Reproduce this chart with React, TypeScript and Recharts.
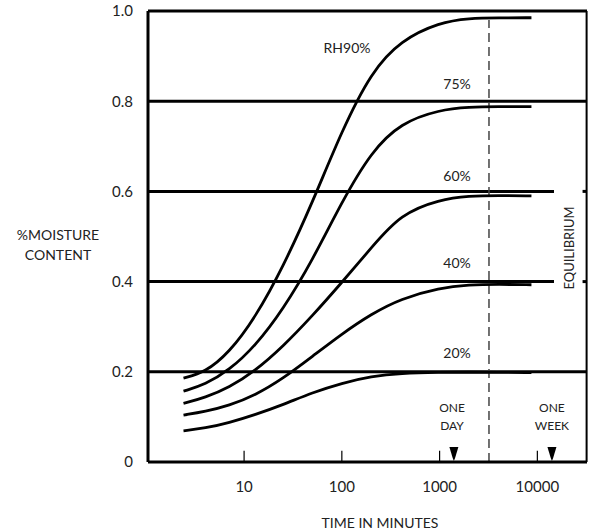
import React from "react";
import {
  LineChart,
  Line,
  XAxis,
  YAxis,
  ReferenceLine,
  ReferenceDot,
  Label,
} from "recharts";

// ---------------------------------------------------------------------------
// Data
// ---------------------------------------------------------------------------

// time in minutes (log axis)
const TIMES = [2.4, 4, 7, 13, 25, 50, 100, 200, 400, 1000, 2000, 4000, 8700];

// % moisture content per relative humidity
const RH90 = [0.186, 0.199, 0.242, 0.32, 0.432, 0.575, 0.735, 0.865, 0.935, 0.975, 0.984, 0.985, 0.985];
const RH75 = [0.157, 0.172, 0.203, 0.257, 0.338, 0.447, 0.577, 0.688, 0.752, 0.781, 0.787, 0.788, 0.788];
const RH60 = [0.13, 0.143, 0.165, 0.202, 0.256, 0.324, 0.398, 0.475, 0.55, 0.582, 0.59, 0.591, 0.59];
const RH40 = [0.104, 0.112, 0.125, 0.148, 0.185, 0.234, 0.284, 0.328, 0.362, 0.386, 0.393, 0.394, 0.393];
const RH20 = [0.069, 0.075, 0.087, 0.105, 0.127, 0.154, 0.175, 0.19, 0.197, 0.199, 0.199, 0.199, 0.198];

const X_TICKS = [10, 100, 1000, 10000];
const Y_TICKS = [0, 0.2, 0.4, 0.6, 0.8, 1.0];
const FULL_LINES = [0.2, 0.8, 1.0];
const SHORT_LINES = [0.4, 0.6];

const X_MIN = 1.04;
const X_MAX = 32200;
const ONE_DAY = 1400;
const ONE_WEEK = 14100;
const EQUILIBRIUM_T = 3200;

const FONT = "Lato, 'Open Sans', sans-serif";
const INK = "#222";

const toSeries = (vals: number[]) => TIMES.map((t, i) => ({ t, v: vals[i] }));

const SERIES = [
  { key: "rh90", values: RH90 },
  { key: "rh75", values: RH75 },
  { key: "rh60", values: RH60 },
  { key: "rh40", values: RH40 },
  { key: "rh20", values: RH20 },
];

// ---------------------------------------------------------------------------
// Small render helpers
// ---------------------------------------------------------------------------

const textShape =
  (text: string, size = 14, rotate = 0) =>
  (p: any) =>
    (
      <text
        x={p.cx}
        y={p.cy}
        textAnchor="middle"
        dominantBaseline="central"
        fontSize={size}
        fontFamily={FONT}
        fill={INK}
        transform={rotate ? `rotate(${rotate} ${p.cx} ${p.cy})` : undefined}
      >
        {text}
      </text>
    );

const arrowShape = (p: any) => {
  const { cx, cy } = p;
  return (
    <path
      d={`M${cx - 4.5},${cy - 15} L${cx + 4.5},${cy - 15} L${cx + 1.2},${cy - 4} L${cx},${cy - 1} L${cx - 1.2},${cy - 4} Z`}
      fill="#000"
    />
  );
};

const yTitle = (props: any) => {
  const vb = props.viewBox || { x: 0, y: 11 };
  const x = vb.x + 58;
  return (
    <text x={x} y={vb.y + 224} textAnchor="middle" fontSize={14} fontFamily={FONT} fill={INK}>
      <tspan x={x} dy="0.35em">%MOISTURE</tspan>
      <tspan x={x} dy={20}>CONTENT</tspan>
    </text>
  );
};

const xTitle = (props: any) => {
  const vb = props.viewBox || { x: 148, y: 462 };
  return (
    <text
      x={380}
      y={vb.y + 60}
      textAnchor="middle"
      dominantBaseline="central"
      fontSize={14}
      fontFamily={FONT}
      fill={INK}
    >
      TIME IN MINUTES
    </text>
  );
};

// ---------------------------------------------------------------------------
// Component
// ---------------------------------------------------------------------------

export default function App() {
  return (
    <div style={{ position: "fixed", top: 0, left: 0, background: "#fff" }}>
      <LineChart
        width={597}
        height={530}
        margin={{ top: 11, right: 10, bottom: 0, left: 0 }}
      >
        <XAxis
          type="number"
          dataKey="t"
          scale="log"
          domain={[X_MIN, X_MAX]}
          allowDataOverflow
          ticks={X_TICKS}
          tickLine={false}
          tickSize={0}
          tickMargin={19}
          height={68}
          axisLine={{ stroke: "#000", strokeWidth: 3 }}
          tick={{ fontSize: 15, fill: INK, fontFamily: FONT }}
        >
          <Label content={xTitle} />
        </XAxis>
        <YAxis
          type="number"
          domain={[0, 1]}
          ticks={Y_TICKS}
          width={148}
          tickLine={false}
          tickSize={0}
          tickMargin={15}
          axisLine={{ stroke: "#000", strokeWidth: 3 }}
          tick={{ fontSize: 15, fill: INK, fontFamily: FONT }}
          tickFormatter={(v: number) => (v === 0 ? "0" : v.toFixed(1))}
        >
          <Label content={yTitle} />
        </YAxis>

        {/* horizontal rules */}
        {FULL_LINES.map((y) => (
          <ReferenceLine key={`f${y}`} y={y} stroke="#000" strokeWidth={3} ifOverflow="visible" />
        ))}
        {SHORT_LINES.map((y) => (
          <ReferenceLine
            key={`s${y}`}
            segment={[
              { x: X_MIN, y },
              { x: 14800, y },
            ]}
            stroke="#000"
            strokeWidth={3}
            ifOverflow="visible"
          />
        ))}
        {SHORT_LINES.map((y) => (
          <ReferenceLine
            key={`stub${y}`}
            segment={[
              { x: 29000, y },
              { x: 31800, y },
            ]}
            stroke="#000"
            strokeWidth={3}
          />
        ))}

        {/* right border */}
        <ReferenceLine x={31900} stroke="#000" strokeWidth={2} ifOverflow="visible" />

        {/* inner ticks on the time axis */}
        {X_TICKS.map((t) => (
          <ReferenceLine
            key={`tick${t}`}
            segment={[
              { x: t, y: 0 },
              { x: t, y: 0.025 },
            ]}
            stroke="#000"
            strokeWidth={1.2}
          />
        ))}

        {/* equilibrium line */}
        <ReferenceLine
          segment={[
            { x: EQUILIBRIUM_T, y: 0 },
            { x: EQUILIBRIUM_T, y: 0.98 },
          ]}
          stroke="#444"
          strokeWidth={1.5}
          strokeDasharray="9 5"
        />

        {SERIES.map((s) => (
          <Line
            key={s.key}
            data={toSeries(s.values)}
            dataKey="v"
            type="basis"
            stroke="#000"
            strokeWidth={2.8}
            dot={false}
            isAnimationActive={false}
          />
        ))}

        {/* curve labels */}
        <ReferenceDot x={113} y={0.918} r={0} shape={textShape("RH90%")} />
        <ReferenceDot x={1507} y={0.84} r={0} shape={textShape("75%")} />
        <ReferenceDot x={1507} y={0.636} r={0} shape={textShape("60%")} />
        <ReferenceDot x={1507} y={0.443} r={0} shape={textShape("40%")} />
        <ReferenceDot x={1507} y={0.242} r={0} shape={textShape("20%")} />

        <ReferenceDot x={21100} y={0.4745} r={0} shape={textShape("EQUILIBRIUM", 13, -90)} />

        {/* one day / one week markers */}
        <ReferenceDot x={1340} y={0.12} r={0} shape={textShape("ONE", 12)} />
        <ReferenceDot x={1340} y={0.082} r={0} shape={textShape("DAY", 12)} />
        <ReferenceDot x={ONE_WEEK} y={0.12} r={0} shape={textShape("ONE", 12)} />
        <ReferenceDot x={ONE_WEEK} y={0.082} r={0} shape={textShape("WEEK", 12)} />
        <ReferenceDot x={ONE_DAY} y={0} r={0} shape={arrowShape} />
        <ReferenceDot x={ONE_WEEK} y={0} r={0} shape={arrowShape} />
      </LineChart>
    </div>
  );
}
